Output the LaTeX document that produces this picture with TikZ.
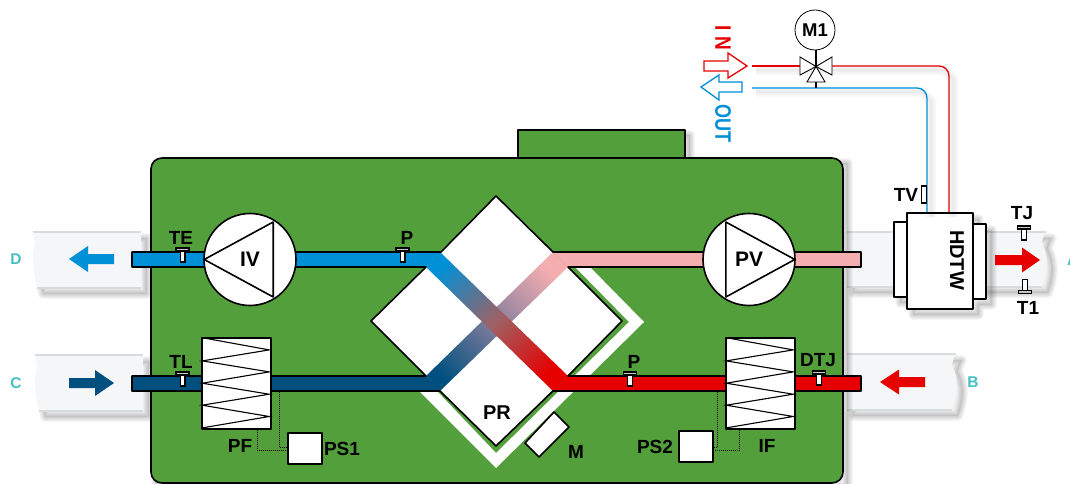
\documentclass[tikz,border=0pt]{standalone}
\usepackage{fontspec}
\setmainfont{Liberation Sans}
\usetikzlibrary{calc}
\definecolor{cgreen}{HTML}{529F3C}
\definecolor{cblue}{HTML}{0090D7}
\definecolor{cdark}{HTML}{00507F}
\definecolor{cred}{HTML}{E60000}
\definecolor{cpink}{HTML}{F4AEB0}
\definecolor{cteal}{HTML}{45BFC4}
\definecolor{cduct}{HTML}{F5F6F7}
\definecolor{cedge}{HTML}{D8DBDB}
\definecolor{cmix}{HTML}{A06062}
\definecolor{cmixb}{HTML}{8A7F9E}
\pgfdeclarehorizontalshading{bandone}{100bp}{color(0bp)=(cblue); color(22bp)=(cblue); color(50bp)=(cmix); color(76bp)=(cred); color(100bp)=(cred)}
\pgfdeclarehorizontalshading{bandtwo}{100bp}{color(0bp)=(cdark); color(22bp)=(cdark); color(50bp)=(cmixb); color(76bp)=(cpink); color(100bp)=(cpink)}
\newcommand\softsh[2][3]{%
  \fill[black,opacity=.07,shift={(#1,#1)}] #2;
  \foreach \w in {2,4,6,8,10}{\draw[black,opacity=.035,line width=\w pt,line join=round,shift={(#1,#1)}] #2;}}
\newcommand\linesh[2][4]{%
  \foreach \w in {2,5,8,11}{\draw[black,opacity=.018,line width=\w pt,shift={(#1,#1)}] #2;}}
\tikzset{
  outl/.style={draw=black,line width=1.6pt,line join=round},
  thinl/.style={draw=black,line width=.9pt,line join=miter},
  lbl/.style={font=\fontsize{19}{19}\selectfont\bfseries,inner sep=0pt,text=black},
  ductl/.style={font=\fontsize{15.5}{15.5}\selectfont\bfseries,inner sep=0pt,text=cteal},
  box/.style={outl,fill=white,inner sep=0pt,minimum width=#1},
  fan/.style={outl,fill=white,circle,inner sep=0pt,minimum size=92pt,font=\fontsize{21}{21}\selectfont\bfseries},
  dotl/.style={draw=black,line width=.8pt,dash pattern=on 1pt off 1pt},
  tsens/.pic={
    \draw[black,line width=1.2pt,fill=gray!45] (-6.5,0) rectangle (6.5,3);
    \draw[black,line width=1.4pt,fill=white] (-2.3,3) rectangle (2.3,14);
  },
}
\begin{document}
\begin{tikzpicture}[x=1pt,y=-1pt]
\useasboundingbox (0,0) rectangle (1070,484);
\fill[white] (0,0) rectangle (1070,484);

% ducts
\newcommand\ductD{(33,232) -- (141,232) -- (141,288) -- (37,288) .. controls (34,275) and (31,255) .. (35,243) .. controls (35.5,240) and (34,236) .. (33,232) -- cycle}
\newcommand\ductC{(35,355) -- (143,355) -- (143,411) -- (39,411) .. controls (36,398) and (33,378) .. (37,366) .. controls (37.5,363) and (36,359) .. (35,355) -- cycle}
\newcommand\ductA{(847,232) -- (1046,232) .. controls (1044,236) and (1042,239) .. (1042,243) .. controls (1049,256) and (1048,272) .. (1042,287) -- (847,287) -- cycle}
\newcommand\ductB{(847,354) -- (956,354) .. controls (954,358) and (952,362) .. (952,366) .. controls (959,378) and (958,394) .. (952,410) -- (847,410) -- cycle}
\foreach \d in {\ductD,\ductC,\ductA,\ductB}{
  \softsh[6]{\d}
  \fill[cduct] \d;
}
\draw[cedge,line width=1.4pt] (33,232) -- (141,232) (37,288) -- (141,288) (35,355) -- (143,355) (39,411) -- (143,411)
  (847,232) -- (1046,232) (847,287) -- (1042,287) (847,354) -- (956,354) (847,410) -- (952,410);

% body
\newcommand\bumpp{(518,130) rectangle (685,158)}
\softsh[5]{\bumpp}
\softsh[5]{(151,170) -- (151,158) -- (843,158) -- (843,483) -- (151,483) -- cycle}
\fill[cgreen] (843,300) [rounded corners=11pt] -- (843,158) -- (151,158) -- (151,483) -- (843,483) -- cycle;
\draw[outl,fill=cgreen] (518,158) -- (518,130) -- (685,130) -- (685,158);
\draw[outl,rounded corners=11pt] (843,300) -- (843,158) -- (151,158) -- (151,483) -- (843,483) -- (843,300);

% exchanger
\fill[white] (575,267) -- (590,267) -- (644,322) -- (496,468) -- (419,391) -- (437,391) -- (496,453) -- (629,322) -- cycle;
\fill[white] (496,196) -- (622,321) -- (496,446) -- (371,321) -- cycle;
\shade[shading=bandtwo,shading angle=45] (553,252) -- (568,267) -- (440,391) -- (426,376) -- cycle;
\shade[shading=bandone,shading angle=-45] (440,252) -- (426,267) -- (553,391) -- (568,376) -- cycle;
\fill[cblue] (132,252) -- (441,252) -- (426,267) -- (132,267) -- cycle;
\fill[cpink] (553,252) -- (861,252) -- (861,267) -- (568,267) -- cycle;
\fill[cdark] (132,376) -- (426,376) -- (440,391) -- (132,391) -- cycle;
\fill[cred] (568,376) -- (861,376) -- (861,391) -- (553,391) -- cycle;
\draw[outl] (426,267) -- (132,267) -- (132,252) -- (441,252) -- (496,196) -- (553,252) -- (861,252) -- (861,267) -- (568,267) -- (622,321) -- (568,376) -- (861,376) -- (861,391) -- (553,391) -- (496,446) -- (440,391) -- (132,391) -- (132,376) -- (426,376) -- (371,321) -- cycle;

% fans
\node[fan] (iv) at (250,259.5) {IV};
\node[fan] (pv) at (749,259.5) {PV};
\draw[outl] ([xshift=1pt]iv.west) -- ++(69,-37.5) -- ++(0,75) -- cycle;
\draw[outl] ([xshift=-1pt]pv.east) -- ++(-69,-37.5) -- ++(0,75) -- cycle;

% filters
\node[box=69pt,minimum height=91pt] (pf) at (236.5,383.5) {};
\node[box=69pt,minimum height=91pt] (if) at (760.5,383.5) {};
\foreach \f in {pf,if}{
  \draw[black,line width=1.1pt] ($(\f.north west)+(1,0.5)$) -- ++(67,12.2) -- ++(-67,11) -- ++(67,11) -- ++(-67,11.3) -- ++(67,11) -- ++(-67,11) -- ++(67,11.3) -- ++(-67,11.4);
}
\node[box=34pt,minimum height=31pt] (ps1) at (305,448.5) {};
\node[box=34pt,minimum height=31pt] (ps2) at (696,446.5) {};
\coordinate (pfa) at (257,429.5);
\coordinate (pfb) at (279,391.5);
\coordinate (ifa) at (739,429.5);
\coordinate (ifb) at (717,391.5);
\draw[dotl] (pfa) |- (ps1.west |- 0,450);
\draw[dotl] (pfb) |- (ps1.west |- 0,447);
\draw[dotl] (ifa) |- (ps2.east |- 0,450);
\draw[dotl] (ifb) |- (ps2.east |- 0,447);

% motor of exchanger
\draw[outl,fill=white] (554,412) -- (569,427) -- (539,457) -- (525,443) -- cycle;

% HDTW
\softsh[6]{(894,222) -- (907,222) -- (907,213) -- (973,213) -- (973,224) -- (986,224) -- (986,299) -- (973,299) -- (973,309) -- (907,309) -- (907,297) -- (894,297) -- cycle}
\node[box=13pt,minimum height=75pt] (hl) at (900.5,259.5) {};
\node[box=13pt,minimum height=75pt] (hr) at (979.5,261.5) {};
\node[box=66pt,minimum height=96pt] (hdtw) at (940,261) {};
\node[lbl,rotate=-90,font=\fontsize{20}{20}\selectfont\bfseries] (hdtwt) at (957,260) {HDTW};

% valve and hydraulic lines
\coordinate (v) at (816,66.5);
\coordinate (redin) at (752,66);
\coordinate (bluein) at (752,88);
\coordinate (vr) at (832,66);
\coordinate (vb) at (816,88);
\node[draw=black,line width=.8pt,fill=white,circle,inner sep=0pt,minimum size=40pt,font=\fontsize{18.5}{18.5}\selectfont\bfseries] (m1) at (815,30) {M1};
\linesh{(752,66) -- (940,66) -- (949,75) -- (949,213)}
\linesh{(752,88) -- (918,88) -- (927,97) -- (927,213)}
\draw[cred,line width=1.3pt] (redin) -- (800,66);
\draw[cred,line width=1.3pt,rounded corners=10pt] (vr) -| (hdtw.north -| 949,0);
\draw[cblue,line width=1.3pt,rounded corners=10pt] (bluein) -| (hdtw.north -| 927,0);
\draw[black,line width=1.8pt] (m1.south -| v) -- (v);
\draw[black,line width=1.8pt] (816,82) -- (vb);
\draw[thinl,fill=white] (v) -- (800,57) -- (800,75) -- cycle;
\draw[thinl,fill=white] (v) -- (832,57) -- (832,75) -- cycle;
\draw[thinl,fill=white] (v) -- (807,82) -- (825,82) -- cycle;

% IN / OUT hollow arrows
\draw[cred,line width=1.3pt,fill=white,line join=miter] (704,61) -- (728,61) -- (728,53) -- (747,66) -- (728,78) -- (728,71) -- (704,71) -- cycle;
\draw[cblue,line width=1.3pt,fill=white,line join=miter] (701,87) -- (719,75) -- (719,82) -- (742,82) -- (742,92) -- (719,92) -- (719,100) -- cycle;
\node[inner sep=0pt,text=cred,rotate=-90,font=\fontsize{19}{19}\selectfont\bfseries] (inl) at (723,38) {\scalebox{1}[1.18]{I\kern6pt N}};
\node[inner sep=0pt,text=cblue,rotate=-90,font=\fontsize{19}{19}\selectfont\bfseries] (outl) at (723,123.5) {\scalebox{.95}[1.18]{OUT}};

% sensors
\pic at (182.5,248) {tsens};
\pic at (182.5,372) {tsens};
\pic at (402.5,248) {tsens};
\pic at (630,372) {tsens};
\pic at (819,371) {tsens};
\pic at (1024,226) {tsens};
\pic[yscale=-1] at (1025,293.5) {tsens};
\draw[black,line width=1.3pt,fill=white] (921.5,186) rectangle (926.5,203);

% flow arrows
\fill[cblue] (69,259) -- (88,246) -- (88,254) -- (114,254) -- (114,264) -- (88,264) -- (88,272) -- cycle;
\fill[cdark] (114,383) -- (95,370) -- (95,378) -- (69,378) -- (69,388) -- (95,388) -- (95,396) -- cycle;
\fill[cred] (880,382) -- (899,369.5) -- (899,377) -- (925,377) -- (925,387) -- (899,387) -- (899,394.5) -- cycle;
\fill[cred] (1040,260) -- (1022,247.5) -- (1022,255) -- (995,255) -- (995,265) -- (1022,265) -- (1022,272.5) -- cycle;

% labels
\node[lbl] (te) at (181,238) {TE};
\node[lbl] (tl) at (181,362) {TL};
\node[lbl] (p1) at (407,238) {P};
\node[lbl] (p2) at (634,362) {P};
\node[lbl] (pfl) at (240,446) {PF};
\node[lbl] (ps1l) at (342,449) {PS1};
\node[lbl,font=\fontsize{20}{20}\selectfont\bfseries] (pr) at (497,413) {PR};
\node[lbl] (ml) at (576,452) {M};
\node[lbl] (ps2l) at (655,447) {PS2};
\node[lbl] (ifl) at (767,446) {IF};
\node[lbl] (dtj) at (818,360) {DTJ};
\node[lbl] (tj) at (1022,213) {TJ};
\node[lbl] (t1) at (1028,308) {T1};
\node[lbl] (tv) at (906,195) {TV};
\node[ductl] (d) at (16,259) {D};
\node[ductl] (c) at (16,383) {C};
\node[ductl] (b) at (973,382) {B};
\node[ductl,anchor=west] (a) at (1067,260) {A};
\end{tikzpicture}
\end{document}
